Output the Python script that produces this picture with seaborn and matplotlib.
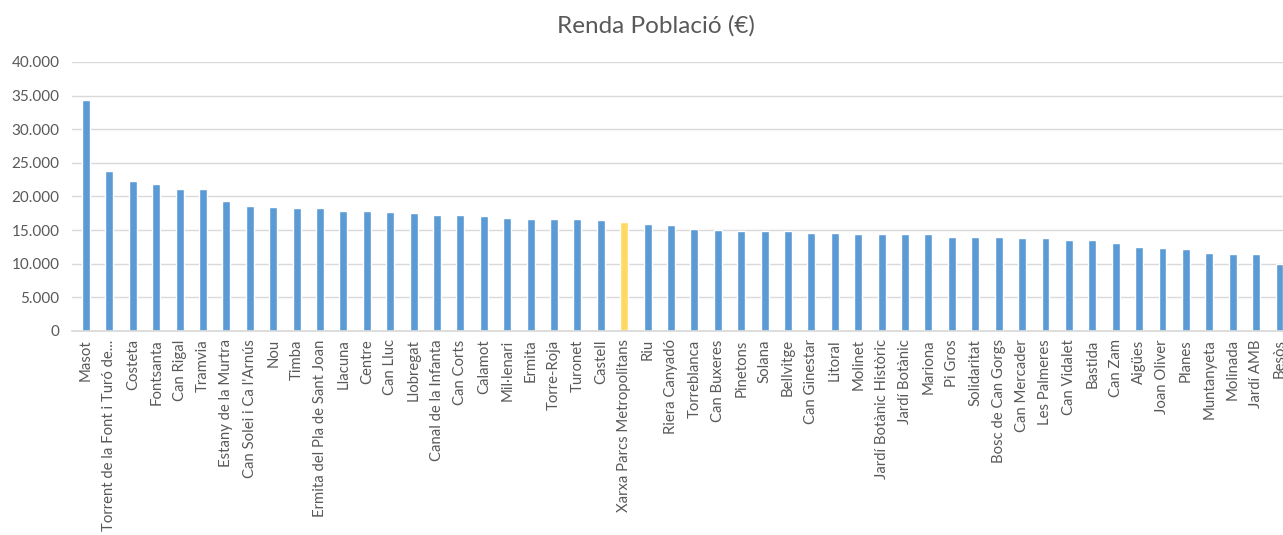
import matplotlib
matplotlib.use("Agg")
import matplotlib.pyplot as plt
from matplotlib.ticker import FuncFormatter, MultipleLocator
import seaborn as sns
import pandas as pd

parcs = [
    "Masot", "Torrent de la Font i Turó de...", "Costeta", "Fontsanta", "Can Rigal",
    "Tramvia", "Estany de la Murtra", "Can Solei i Ca l'Arnús", "Nou", "Timba",
    "Ermita del Pla de Sant Joan", "Llacuna", "Centre", "Can Lluc", "Llobregat",
    "Canal de la Infanta", "Can Corts", "Calamot", "Mil·lenari", "Ermita",
    "Torre-Roja", "Turonet", "Castell", "Xarxa Parcs Metropolitans", "Riu",
    "Riera Canyadó", "Torreblanca", "Can Buxeres", "Pinetons", "Solana",
    "Bellvitge", "Can Ginestar", "Litoral", "Molinet", "Jardí Botànic Històric",
    "Jardí Botànic", "Mariona", "Pi Gros", "Solidaritat", "Bosc de Can Gorgs",
    "Can Mercader", "Les Palmeres", "Can Vidalet", "Bastida", "Can Zam",
    "Aigües", "Joan Oliver", "Planes", "Muntanyeta", "Molinada",
    "Jardí AMB", "Besòs",
]
renda = [
    34350, 23840, 22350, 21810, 21120,
    21120, 19330, 18630, 18390, 18240,
    18240, 17840, 17840, 17700, 17550,
    17300, 17300, 17150, 16850, 16700,
    16700, 16700, 16460, 16250, 15910,
    15760, 15210, 15060, 14910, 14820,
    14820, 14620, 14620, 14470, 14470,
    14470, 14380, 13930, 13930, 13930,
    13780, 13780, 13530, 13530, 13130,
    12440, 12300, 12150, 11650, 11500,
    11500, 9960,
]
destacat = "Xarxa Parcs Metropolitans"

df = pd.DataFrame({"parc": parcs, "renda": renda})
df["grup"] = ["total" if p == destacat else "parc" for p in parcs]

sns.set_theme(style="white")
plt.rcParams["font.family"] = ["Lato", "DejaVu Sans"]

text_color = "#595959"
fig = plt.figure(figsize=(12.83, 5.35), dpi=100)
ax = fig.add_axes([72 / 1283, 1 - 331 / 535, 1 - 72 / 1283, (331 - 62) / 535])

sns.barplot(data=df, x="parc", y="renda", hue="grup",
            palette={"parc": "#5B9BD5", "total": "#FFD966"},
            width=0.34, legend=False, ax=ax, saturation=1)

ax.set_ylim(0, 40000)
ax.set_xlim(-0.6, 51.15)
ax.yaxis.set_major_locator(MultipleLocator(5000))
ax.yaxis.set_major_formatter(FuncFormatter(lambda v, p: f"{int(v):,}".replace(",", ".")))
ax.grid(axis="y", color="#D9D9D9", linewidth=1)
ax.set_axisbelow(True)
for s in ["top", "right", "left"]:
    ax.spines[s].set_visible(False)
ax.spines["bottom"].set_color("#D9D9D9")
ax.set_xlabel("")
ax.set_ylabel("")
ax.tick_params(axis="x", rotation=90, labelsize=10.7, colors=text_color, length=0, pad=6)
ax.tick_params(axis="y", labelsize=11, colors=text_color, length=0, pad=9)

# the source chart is cropped on the right, so centre the title a bit right
fig.text(656 / 1283, 1 - 26 / 535, "Renda Població (€)", ha="center", va="center",
         fontsize=17.5, color=text_color)

fig.savefig("out.png", dpi=100)
